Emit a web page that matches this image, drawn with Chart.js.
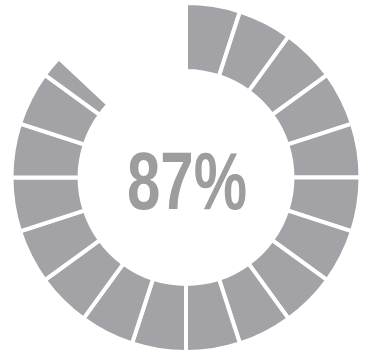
<!DOCTYPE html>
<html lang="en">
<head>
    <meta charset="UTF-8" />
    <title>87% segmented ring</title>
    <script src="https://cdn.jsdelivr.net/npm/chart.js"></script>
    <style>
        html, body { margin: 0; padding: 0; background: #fff; }
        #wrap { width: 368px; height: 354px; }
    </style>
</head>
<body>
    <div id="wrap"><canvas id="ring"></canvas></div>

    <script>
        // the ring is 20 blocks of 5%; 87% fills 17 blocks and 2/5 of the 18th
        const percentLabel = "87%";
        const filledBlocks = [5, 5, 5, 5, 5, 5, 5, 5, 5, 5, 5, 5, 5, 5, 5, 5, 5, 2];
        const emptyPart = [13];

        const ringGray = "#a3a3a7";
        const textGray = "#9d9da0";

        const values = filledBlocks.concat(emptyPart);
        const colors = values.map((v, i) => i < filledBlocks.length ? ringGray : "rgba(0,0,0,0)");
        const borders = values.map((v, i) => i < filledBlocks.length ? 4 : 0);

        // draw the big condensed percentage in the hole
        const centerText = {
            id: "centerText",
            afterDraw(chart) {
                const ctx = chart.ctx;
                const arc = chart.getDatasetMeta(0).data[0];
                ctx.save();
                ctx.font = "bold 82px 'Liberation Sans', Arial, sans-serif";
                const w = ctx.measureText(percentLabel).width;
                const sx = 120 / w;
                ctx.translate(arc.x + 1, arc.y + 9);
                ctx.scale(sx, 1);
                ctx.fillStyle = textGray;
                ctx.textAlign = "center";
                ctx.textBaseline = "middle";
                ctx.fillText(percentLabel, 0, 0);
                ctx.restore();
            }
        };

        new Chart(document.getElementById("ring"), {
            type: "doughnut",
            data: {
                labels: values.map((v, i) => "part " + (i + 1)),
                datasets: [{
                    data: values,
                    backgroundColor: colors,
                    borderColor: "#ffffff",
                    borderWidth: borders,
                    borderAlign: "center",
                }],
            },
            options: {
                responsive: true,
                maintainAspectRatio: false,
                animation: false,
                cutout: "61%",
                layout: { padding: { left: 4, right: 0, top: 1, bottom: 0 } },
                plugins: {
                    legend: { display: false },
                    tooltip: { enabled: false },
                },
            },
            plugins: [centerText],
        });
    </script>
</body>
</html>
